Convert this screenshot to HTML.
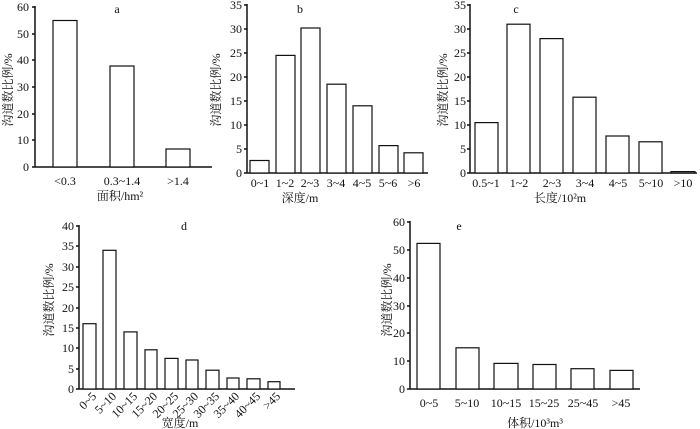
<!DOCTYPE html>
<html><head><meta charset="utf-8"><style>
html,body{margin:0;padding:0;background:#fff;}
svg{display:block;font-family:"Liberation Serif","Noto Serif CJK SC",serif;}
text{font-size:12px;fill:#111;}
.b{fill:#fff;stroke:#111;stroke-width:1.2;}
.ax{stroke:#111;stroke-width:1.5;fill:none;}
.t{text-anchor:end;}
.m{text-anchor:middle;}
</style></head><body>
<svg width="700" height="429" viewBox="0 0 700 429">
<!-- a -->
<path class="ax" d="M35,6V167H212M32,7H35M32,34H35M32,60H35M32,87H35M32,114H35M32,140H35M32,167H35"/>
<g class="t"><text x="29" y="11">60</text><text x="29" y="38">50</text><text x="29" y="64">40</text><text x="29" y="91">30</text><text x="29" y="118">20</text><text x="29" y="144">10</text><text x="29" y="171">0</text></g>
<rect class="b" x="53" y="20.5" width="24" height="146.5"/>
<rect class="b" x="110" y="66" width="24" height="101"/>
<rect class="b" x="166" y="149" width="24" height="18"/>
<g class="m"><text x="65" y="185">&lt;0.3</text><text x="122" y="185">0.3~1.4</text><text x="178" y="185">&gt;1.4</text>
<text x="117" y="13">a</text><text x="120" y="200">面积/hm²</text></g>
<text class="m" transform="translate(12,90) rotate(-90)">沟道数比例/%</text>
<!-- b -->
<path class="ax" d="M247,4V173H428M244,5H247M244,29H247M244,53H247M244,77H247M244,101H247M244,125H247M244,149H247M244,173H247"/>
<g class="t"><text x="242" y="9">35</text><text x="242" y="33">30</text><text x="242" y="57">25</text><text x="242" y="81">20</text><text x="242" y="105">15</text><text x="242" y="129">10</text><text x="242" y="153">5</text><text x="242" y="177">0</text></g>
<rect class="b" x="250" y="160.5" width="19" height="12.5"/>
<rect class="b" x="276" y="55.4" width="19" height="117.6"/>
<rect class="b" x="301" y="28" width="19" height="145"/>
<rect class="b" x="327" y="84.2" width="19" height="88.8"/>
<rect class="b" x="353" y="105.8" width="19" height="67.2"/>
<rect class="b" x="379" y="145.6" width="19" height="27.4"/>
<rect class="b" x="404" y="152.8" width="19" height="20.2"/>
<g class="m"><text x="260" y="187">0~1</text><text x="285" y="187">1~2</text><text x="310" y="187">2~3</text><text x="336" y="187">3~4</text><text x="362" y="187">4~5</text><text x="388" y="187">5~6</text><text x="414" y="187">&gt;6</text>
<text x="300" y="13">b</text><text x="300" y="202">深度/m</text></g>
<text class="m" transform="translate(220,90) rotate(-90)">沟道数比例/%</text>
<!-- c -->
<path class="ax" d="M470,4V173H697M467,5H470M467,29H470M467,53H470M467,77H470M467,101H470M467,125H470M467,149H470M467,173H470"/>
<g class="t"><text x="466" y="9">35</text><text x="466" y="33">30</text><text x="466" y="57">25</text><text x="466" y="81">20</text><text x="466" y="105">15</text><text x="466" y="129">10</text><text x="466" y="153">5</text><text x="466" y="177">0</text></g>
<rect class="b" x="475" y="122.6" width="23" height="50.4"/>
<rect class="b" x="507" y="24.2" width="23" height="148.8"/>
<rect class="b" x="540" y="38.6" width="23" height="134.4"/>
<rect class="b" x="573" y="97.2" width="23" height="75.8"/>
<rect class="b" x="606" y="136" width="23" height="37"/>
<rect class="b" x="639" y="141.8" width="23" height="31.2"/>
<rect class="b" x="671" y="171.6" width="24" height="1.4"/>
<g class="m"><text x="486" y="187">0.5~1</text><text x="519" y="187">1~2</text><text x="552" y="187">2~3</text><text x="585" y="187">3~4</text><text x="618" y="187">4~5</text><text x="651" y="187">5~10</text><text x="683" y="187">&gt;10</text>
<text x="516" y="13">c</text><text x="560" y="202">长度/10²m</text></g>
<text class="m" transform="translate(447,90) rotate(-90)">沟道数比例/%</text>
<!-- d -->
<path class="ax" d="M79,225V389H295M76,226H79M76,246H79M76,267H79M76,287H79M76,308H79M76,328H79M76,348H79M76,369H79M76,389H79"/>
<g class="t"><text x="74" y="230">40</text><text x="74" y="250">35</text><text x="74" y="271">30</text><text x="74" y="291">25</text><text x="74" y="312">20</text><text x="74" y="332">15</text><text x="74" y="352">10</text><text x="74" y="373">5</text><text x="74" y="393">0</text></g>
<rect class="b" x="83" y="323.7" width="13" height="65.3"/>
<rect class="b" x="103" y="250.3" width="13" height="138.7"/>
<rect class="b" x="124" y="331.9" width="13" height="57.1"/>
<rect class="b" x="145" y="349.8" width="12" height="39.2"/>
<rect class="b" x="165" y="358.4" width="13" height="30.6"/>
<rect class="b" x="186" y="360" width="12" height="29"/>
<rect class="b" x="206" y="370.2" width="13" height="18.8"/>
<rect class="b" x="227" y="378" width="12" height="11"/>
<rect class="b" x="247" y="378.8" width="13" height="10.2"/>
<rect class="b" x="268" y="381.7" width="12" height="7.3"/>
<g class="t" font-size="10">
<text transform="translate(97,397) rotate(-45)">0~5</text>
<text transform="translate(117,397) rotate(-45)">5~10</text>
<text transform="translate(138,397) rotate(-45)">10~15</text>
<text transform="translate(158,397) rotate(-45)">15~20</text>
<text transform="translate(179,397) rotate(-45)">20~25</text>
<text transform="translate(199,397) rotate(-45)">25~30</text>
<text transform="translate(220,397) rotate(-45)">30~35</text>
<text transform="translate(240,397) rotate(-45)">35~40</text>
<text transform="translate(261,397) rotate(-45)">40~45</text>
<text transform="translate(281,397) rotate(-45)">&gt;45</text>
</g>
<g class="m"><text x="184" y="230">d</text><text x="180" y="427">宽度/m</text></g>
<text class="m" transform="translate(53,300) rotate(-90)">沟道数比例/%</text>
<!-- e -->
<path class="ax" d="M410,221V389H640M407,222H410M407,250H410M407,278H410M407,306H410M407,333H410M407,361H410M407,389H410"/>
<g class="t"><text x="405" y="226">60</text><text x="405" y="254">50</text><text x="405" y="282">40</text><text x="405" y="310">30</text><text x="405" y="337">20</text><text x="405" y="365">10</text><text x="405" y="393">0</text></g>
<rect class="b" x="417" y="243.4" width="23" height="145.6"/>
<rect class="b" x="456" y="347.8" width="23" height="41.2"/>
<rect class="b" x="494" y="363.4" width="24" height="25.6"/>
<rect class="b" x="533" y="364.5" width="23" height="24.5"/>
<rect class="b" x="571" y="368.7" width="23" height="20.3"/>
<rect class="b" x="610" y="370.4" width="23" height="18.6"/>
<g class="m"><text x="429" y="407">0~5</text><text x="467" y="407">5~10</text><text x="506" y="407">10~15</text><text x="544" y="407">15~25</text><text x="583" y="407">25~45</text><text x="621" y="407">&gt;45</text>
<text x="459" y="230">e</text><text x="535" y="427">体积/10³m³</text></g>
<text class="m" transform="translate(391,300) rotate(-90)">沟道数比例/%</text>
</svg>
</body></html>
